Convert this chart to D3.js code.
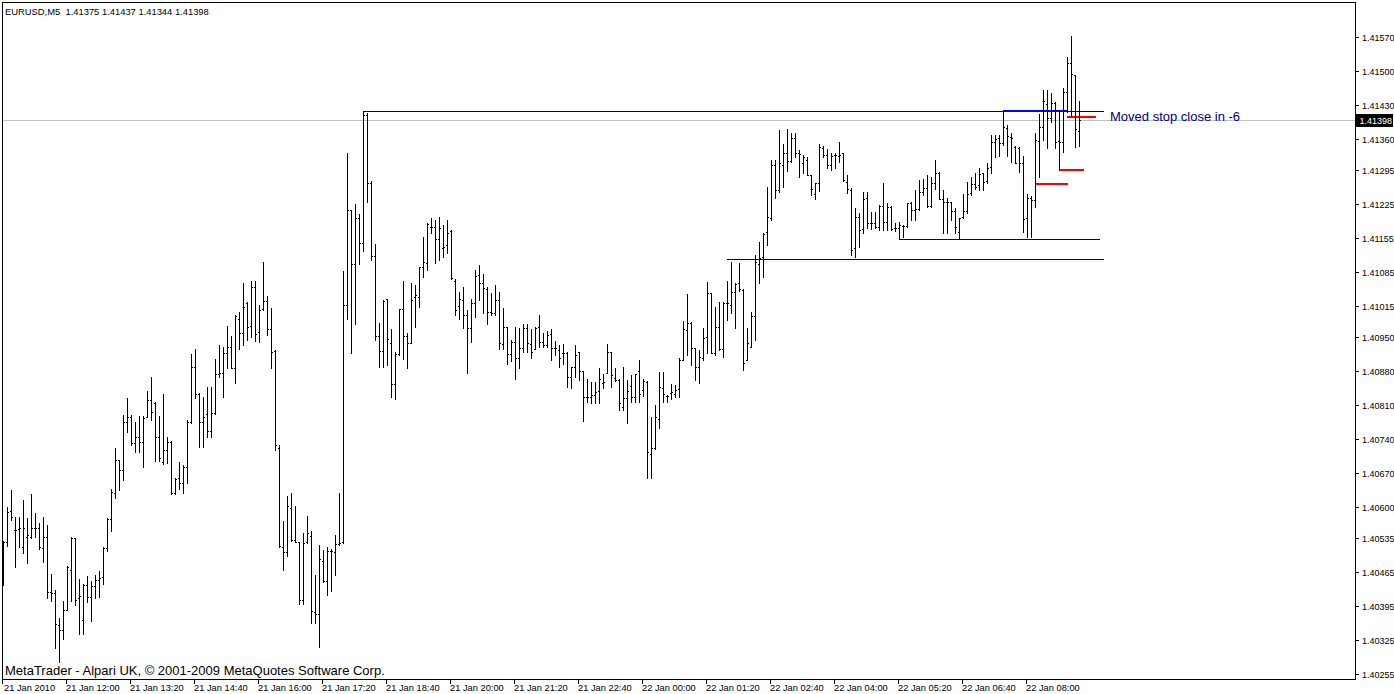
<!DOCTYPE html>
<html><head><meta charset="utf-8">
<script src="https://cdn.jsdelivr.net/npm/d3@7"></script>
<style>
body{margin:0;background:#fff;}
svg{display:block;}
text{font-family:"Liberation Sans",Arial,sans-serif;}
</style>
</head><body>
<svg id="c" width="1394" height="694"></svg>
<script>
const symbolTitle = "EURUSD,M5";
const copyright = "MetaTrader - Alpari UK, \u00A9 2001-2009 MetaQuotes Software Corp.";
const note = "Moved stop close in -6";

const open = [1.40443,1.40527,1.40591,1.40552,1.40554,1.40517,1.40538,1.40538,1.40556,1.40556,
1.40515,1.40538,1.40424,1.40422,1.40356,1.40345,1.40387,1.40469,1.40536,1.40411,
1.40366,1.40439,1.40414,1.40436,1.40449,1.40455,1.40515,1.40575,1.40628,1.40696,
1.40676,1.40775,1.40785,1.40732,1.40744,1.40734,1.40785,1.40820,1.40814,1.40744,
1.40692,1.40717,1.40734,1.40628,1.40659,1.40649,1.40682,1.40775,1.40888,1.40833,
1.40775,1.40792,1.40756,1.40794,1.40874,1.40876,1.40917,1.40930,1.40886,1.40987,
1.40958,1.41021,1.40973,1.41054,1.40960,1.41008,1.41025,1.40967,1.40921,1.40721,
1.40517,1.40507,1.40597,1.40531,1.40527,1.40407,1.40527,1.40540,1.40383,1.40378,
1.40488,1.40447,1.40509,1.40507,1.40523,1.40527,1.41017,1.41212,1.41101,1.41196,
1.41145,1.41408,1.41268,1.41118,1.40952,1.40921,1.41029,1.40938,1.40853,1.40915,
1.41008,1.40952,1.40938,1.41033,1.41033,1.41095,1.41103,1.41178,1.41178,1.41153,
1.41134,1.41140,1.41169,1.41066,1.41014,1.41027,1.40996,1.40969,1.41021,1.41078,
1.41062,1.41049,1.41002,1.41000,1.41027,1.40936,1.40971,1.40915,1.40940,1.40907,
1.40928,1.40969,1.40936,1.40925,1.40971,1.40940,1.40934,1.40956,1.40928,1.40923,
1.40917,1.40917,1.40868,1.40888,1.40919,1.40880,1.40827,1.40827,1.40831,1.40839,
1.40856,1.40876,1.40919,1.40866,1.40862,1.40806,1.40825,1.40849,1.40827,1.40880,
1.40841,1.40858,1.40709,1.40721,1.40781,1.40845,1.40829,1.40835,1.40833,1.40843,
1.40903,1.40965,1.40979,1.40928,1.40888,1.40907,1.40950,1.41041,1.40917,1.40971,
1.40925,1.41021,1.41017,1.41043,1.41062,1.41047,1.40903,1.40930,1.40994,1.41101,
1.41115,1.41167,1.41196,1.41305,1.41254,1.41305,1.41330,1.41314,1.41361,1.41330,
1.41310,1.41316,1.41285,1.41246,1.41268,1.41341,1.41326,1.41305,1.41326,1.41324,
1.41330,1.41270,1.41254,1.41134,1.41198,1.41173,1.41237,1.41186,1.41186,1.41178,
1.41221,1.41188,1.41219,1.41175,1.41175,1.41180,1.41180,1.41227,1.41212,1.41214,
1.41250,1.41258,1.41221,1.41268,1.41289,1.41235,1.41229,1.41229,1.41210,1.41167,
1.41198,1.41210,1.41248,1.41266,1.41264,1.41289,1.41272,1.41301,1.41353,1.41361,
1.41351,1.41382,1.41363,1.41343,1.41341,1.41310,1.41196,1.41237,1.41233,1.41355,
1.41384,1.41431,1.41403,1.41434,1.41355,1.41353,1.41456,1.41516,1.41491,1.41375];

const high = [1.40529,1.40600,1.40634,1.40579,1.40579,1.40615,1.40577,1.40626,1.40587,1.40567,
1.40579,1.40563,1.40461,1.40428,1.40370,1.40405,1.40478,1.40538,1.40536,1.40451,
1.40441,1.40457,1.40447,1.40459,1.40467,1.40517,1.40577,1.40636,1.40721,1.40696,
1.40789,1.40825,1.40789,1.40775,1.40787,1.40787,1.40839,1.40868,1.40816,1.40787,
1.40833,1.40744,1.40736,1.40659,1.40692,1.40686,1.40779,1.40915,1.40925,1.40835,
1.40827,1.40848,1.40848,1.40905,1.40934,1.40930,1.40973,1.40952,1.40996,1.41002,
1.41062,1.41023,1.41066,1.41066,1.41017,1.41105,1.41035,1.41010,1.40923,1.40727,
1.40571,1.40622,1.40628,1.40602,1.40527,1.40546,1.40581,1.40550,1.40459,1.40521,
1.40511,1.40517,1.40513,1.40542,1.40628,1.41087,1.41330,1.41212,1.41225,1.41204,
1.41417,1.41413,1.41272,1.41142,1.40979,1.41027,1.41029,1.40967,1.40919,1.41008,
1.41066,1.40958,1.41062,1.41058,1.41095,1.41157,1.41186,1.41196,1.41192,1.41198,
1.41182,1.41192,1.41171,1.41070,1.41043,1.41054,1.41006,1.41029,1.41089,1.41099,
1.41080,1.41054,1.41041,1.41058,1.41043,1.41010,1.40971,1.40944,1.40971,1.40969,
1.40977,1.40977,1.40967,1.40971,1.40996,1.40958,1.40963,1.40967,1.40942,1.40934,
1.40936,1.40919,1.40888,1.40934,1.40919,1.40880,1.40864,1.40858,1.40858,1.40886,
1.40874,1.40936,1.40919,1.40886,1.40864,1.40888,1.40862,1.40872,1.40874,1.40903,
1.40864,1.40860,1.40785,1.40810,1.40878,1.40878,1.40831,1.40854,1.40851,1.40907,
1.40983,1.41039,1.40981,1.40928,1.40923,1.40969,1.41064,1.41041,1.41012,1.41023,
1.41023,1.41066,1.41105,1.41062,1.41103,1.41049,1.40969,1.41002,1.41120,1.41147,
1.41165,1.41260,1.41316,1.41316,1.41378,1.41349,1.41380,1.41372,1.41372,1.41336,
1.41326,1.41322,1.41285,1.41268,1.41349,1.41345,1.41338,1.41330,1.41330,1.41353,
1.41330,1.41285,1.41258,1.41216,1.41206,1.41250,1.41250,1.41208,1.41208,1.41223,
1.41268,1.41227,1.41221,1.41186,1.41188,1.41182,1.41227,1.41229,1.41254,1.41274,
1.41276,1.41285,1.41281,1.41316,1.41291,1.41254,1.41237,1.41229,1.41216,1.41196,
1.41246,1.41270,1.41281,1.41289,1.41299,1.41289,1.41310,1.41368,1.41368,1.41368,
1.41417,1.41388,1.41372,1.41345,1.41343,1.41324,1.41246,1.41241,1.41372,1.41411,
1.41460,1.41460,1.41454,1.41436,1.41419,1.41464,1.41528,1.41572,1.41491,1.41437];

const low = [1.40439,1.40519,1.40573,1.40476,1.40517,1.40505,1.40484,1.40536,1.40538,1.40513,
1.40486,1.40411,1.40405,1.40308,1.40280,1.40327,1.40387,1.40405,1.40397,1.40337,
1.40337,1.40403,1.40364,1.40411,1.40414,1.40441,1.40509,1.40550,1.40618,1.40634,
1.40655,1.40754,1.40727,1.40713,1.40713,1.40682,1.40785,1.40779,1.40694,1.40694,
1.40688,1.40690,1.40626,1.40626,1.40636,1.40628,1.40649,1.40773,1.40825,1.40723,
1.40723,1.40744,1.40744,1.40792,1.40868,1.40827,1.40886,1.40886,1.40856,1.40925,
1.40934,1.40944,1.40950,1.40942,1.40940,1.41006,1.40954,1.40886,1.40717,1.40517,
1.40469,1.40498,1.40529,1.40527,1.40399,1.40399,1.40525,1.40360,1.40360,1.40311,
1.40445,1.40418,1.40426,1.40459,1.40521,1.40525,1.40987,1.40917,1.40977,1.41101,
1.41128,1.41229,1.41109,1.40944,1.40888,1.40888,1.40892,1.40827,1.40823,1.40913,
1.40905,1.40886,1.40938,1.40971,1.41012,1.41074,1.41089,1.41165,1.41103,1.41109,
1.41115,1.41124,1.41070,1.40996,1.40987,1.40969,1.40876,1.40940,1.40991,1.41027,
1.41000,1.40977,1.40996,1.40996,1.40925,1.40925,1.40895,1.40901,1.40864,1.40886,
1.40919,1.40919,1.40907,1.40925,1.40930,1.40930,1.40930,1.40903,1.40913,1.40888,
1.40895,1.40847,1.40845,1.40868,1.40862,1.40777,1.40816,1.40814,1.40814,1.40814,
1.40845,1.40876,1.40847,1.40860,1.40800,1.40800,1.40773,1.40816,1.40816,1.40816,
1.40829,1.40659,1.40659,1.40719,1.40762,1.40816,1.40816,1.40823,1.40827,1.40827,
1.40903,1.40913,1.40892,1.40862,1.40856,1.40903,1.40917,1.40917,1.40913,1.40923,
1.40909,1.40985,1.41000,1.40969,1.41045,1.40882,1.40903,1.40930,1.40944,1.41062,
1.41074,1.41140,1.41192,1.41237,1.41250,1.41260,1.41293,1.41312,1.41322,1.41281,
1.41289,1.41285,1.41244,1.41235,1.41252,1.41322,1.41299,1.41295,1.41299,1.41312,
1.41272,1.41248,1.41120,1.41115,1.41136,1.41165,1.41175,1.41173,1.41175,1.41171,
1.41171,1.41171,1.41171,1.41169,1.41153,1.41157,1.41178,1.41192,1.41192,1.41212,
1.41244,1.41219,1.41219,1.41256,1.41235,1.41165,1.41165,1.41192,1.41165,1.41153,
1.41196,1.41206,1.41244,1.41256,1.41254,1.41254,1.41268,1.41289,1.41322,1.41324,
1.41347,1.41324,1.41312,1.41310,1.41291,1.41167,1.41157,1.41157,1.41219,1.41281,
1.41357,1.41340,1.41394,1.41340,1.41295,1.41332,1.41415,1.41407,1.41343,1.41344];

const close = [1.40527,1.40589,1.40579,1.40552,1.40556,1.40556,1.40542,1.40556,1.40556,1.40517,
1.40538,1.40424,1.40422,1.40358,1.40345,1.40387,1.40476,1.40536,1.40407,1.40416,
1.40439,1.40414,1.40436,1.40449,1.40453,1.40515,1.40575,1.40630,1.40696,1.40676,
1.40775,1.40785,1.40732,1.40744,1.40734,1.40783,1.40820,1.40796,1.40744,1.40700,
1.40717,1.40734,1.40628,1.40657,1.40649,1.40682,1.40775,1.40888,1.40833,1.40775,
1.40785,1.40756,1.40794,1.40874,1.40876,1.40917,1.40930,1.40886,1.40994,1.40958,
1.41012,1.40971,1.41054,1.40956,1.41006,1.41025,1.40967,1.40919,1.40727,1.40519,
1.40507,1.40602,1.40531,1.40527,1.40407,1.40525,1.40546,1.40385,1.40378,1.40492,
1.40447,1.40509,1.40509,1.40523,1.40525,1.41017,1.41212,1.41101,1.41196,1.41145,
1.41408,1.41268,1.41118,1.40952,1.40921,1.41025,1.40946,1.40853,1.40915,1.41008,
1.40952,1.40938,1.41027,1.41037,1.41095,1.41105,1.41184,1.41178,1.41153,1.41175,
1.41136,1.41165,1.41072,1.41006,1.41029,1.40996,1.40969,1.41021,1.41076,1.41062,
1.41052,1.41002,1.41000,1.41027,1.40938,1.40971,1.40915,1.40940,1.40907,1.40928,
1.40969,1.40938,1.40919,1.40969,1.40940,1.40934,1.40954,1.40928,1.40928,1.40907,
1.40917,1.40868,1.40888,1.40913,1.40880,1.40827,1.40827,1.40831,1.40837,1.40864,
1.40858,1.40919,1.40872,1.40862,1.40814,1.40825,1.40839,1.40827,1.40874,1.40833,
1.40860,1.40713,1.40721,1.40785,1.40847,1.40833,1.40829,1.40837,1.40841,1.40903,
1.40967,1.40979,1.40928,1.40888,1.40909,1.40948,1.41041,1.40917,1.40971,1.40925,
1.41021,1.41021,1.41043,1.41060,1.41049,1.40897,1.40938,1.40994,1.41105,1.41113,
1.41163,1.41198,1.41305,1.41254,1.41310,1.41330,1.41314,1.41361,1.41330,1.41328,
1.41322,1.41285,1.41256,1.41268,1.41343,1.41326,1.41305,1.41324,1.41326,1.41326,
1.41274,1.41256,1.41130,1.41198,1.41171,1.41235,1.41186,1.41186,1.41178,1.41221,
1.41188,1.41219,1.41173,1.41175,1.41182,1.41180,1.41227,1.41212,1.41214,1.41250,
1.41258,1.41221,1.41268,1.41289,1.41235,1.41229,1.41229,1.41210,1.41178,1.41196,
1.41210,1.41246,1.41266,1.41260,1.41287,1.41270,1.41299,1.41353,1.41359,1.41351,
1.41384,1.41365,1.41361,1.41310,1.41310,1.41194,1.41237,1.41233,1.41357,1.41384,
1.41438,1.41403,1.41434,1.41353,1.41353,1.41456,1.41516,1.41493,1.41380,1.41398];

const timeLabels = ["21 Jan 2010","21 Jan 12:00","21 Jan 13:20","21 Jan 14:40","21 Jan 16:00",
"21 Jan 17:20","21 Jan 18:40","21 Jan 20:00","21 Jan 21:20","21 Jan 22:40","22 Jan 00:00",
"22 Jan 01:20","22 Jan 02:40","22 Jan 04:00","22 Jan 05:20","22 Jan 06:40","22 Jan 08:00"];
const timeLabelBars = [0,16,32,48,64,80,96,112,128,144,160,176,192,208,224,240,256];

const priceTicks = [1.41570,1.41500,1.41430,1.41360,1.41295,1.41225,1.41155,1.41085,1.41015,1.40950,
1.40880,1.40810,1.40740,1.40670,1.40600,1.40535,1.40465,1.40395,1.40325,1.40255];

// horizontal objects: price level, first bar, last bar, kind
const levelPrice = [1.41417, 1.41112, 1.41153, 1.41417, 1.41405, 1.41295, 1.41267];
const levelFrom  = [90, 181, 224, 250, 266, 264, 258];
const levelTo    = [275, 275, 274, 266, 273, 270, 266];
const levelKind  = ["line","line","line","blue","red","red","red"];

const lastPrice = close[close.length - 1];

// ---------- drawing ----------
const svg = d3.select("#c");
const W = 1394, H = 694;
const frameL = 2, frameT = 2, frameR = 1355, frameB = 679;

const x = d3.scaleLinear().domain([0, open.length - 1]).range([3, 3 + 4 * (open.length - 1)]);
const y = d3.scaleLinear().domain([1.40255, 1.41570]).range([674, 37]);
const px = v => Math.round(x(v));
const py = v => Math.round(y(v));

svg.append("rect").attr("width", W).attr("height", H).attr("fill", "#fff");

const kindStyle = {
  line: {color: "#000080", h: 1},
  blue: {color: "#0000ff", h: 2},
  red:  {color: "#ff0000", h: 2}
};

// current price line
svg.append("rect").attr("x", frameL).attr("y", py(lastPrice))
  .attr("width", frameR - frameL).attr("height", 1).attr("fill", "#c0c0c0");

// level lines
const levels = levelPrice.map((p, i) => ({p, a: levelFrom[i], b: levelTo[i], k: levelKind[i]}));
svg.append("g").selectAll("rect").data(levels).join("rect")
  .attr("x", d => px(d.a))
  .attr("y", d => py(d.p) - (kindStyle[d.k].h > 1 ? 1 : 0))
  .attr("width", d => px(d.b) - px(d.a) + 1)
  .attr("height", d => kindStyle[d.k].h)
  .attr("fill", d => kindStyle[d.k].color);

// OHLC bars
const bars = open.map((o, i) => ({i, o, h: high[i], l: low[i], c: close[i]}));
const gb = svg.append("g").attr("fill", "#000");
bars.forEach(d => {
  const xx = px(d.i);
  const yh = py(d.h), yl = py(d.l);
  const yo = Math.min(Math.max(py(d.o), yh), yl);
  const yc = Math.min(Math.max(py(d.c), yh), yl);
  gb.append("rect").attr("x", xx).attr("y", yh).attr("width", 1).attr("height", yl - yh + 1);
  gb.append("rect").attr("x", xx - 1).attr("y", yo).attr("width", 1).attr("height", 1);
  gb.append("rect").attr("x", xx + 1).attr("y", yc).attr("width", 1).attr("height", 1);
});

// frame
svg.append("rect").attr("x", frameL + 0.5).attr("y", frameT + 0.5)
  .attr("width", frameR - frameL).attr("height", frameB - frameT)
  .attr("fill", "none").attr("stroke", "#000").attr("stroke-width", 1);

// right price axis
const ga = svg.append("g");
priceTicks.forEach(v => {
  const yy = py(v);
  ga.append("rect").attr("x", frameR + 1).attr("y", yy).attr("width", 3).attr("height", 1).attr("fill", "#000");
  ga.append("text").attr("x", 1362).attr("y", yy + 3.5).attr("font-size", 9).attr("fill", "#000")
    .text(v.toFixed(5));
});
// current price tag
const yl = py(lastPrice);
svg.append("rect").attr("x", frameR + 1).attr("y", yl - 6).attr("width", W - frameR - 2).attr("height", 13).attr("fill", "#000");
svg.append("text").attr("x", 1359.5).attr("y", yl + 3.5).attr("font-size", 9).attr("fill", "#fff").text(lastPrice.toFixed(5));

// bottom time axis
timeLabelBars.forEach((b, k) => {
  const xx = px(b) - 1;
  svg.append("rect").attr("x", xx).attr("y", frameB + 1).attr("width", 1).attr("height", 4).attr("fill", "#000");
  svg.append("text").attr("x", k === 0 ? xx + 2 : xx).attr("y", 691).attr("font-size", 9.3).attr("fill", "#000").text(timeLabels[k]);
});

// title with last bar OHLC
const last = open.length - 1;
svg.append("text").attr("x", 5).attr("y", 15).attr("font-size", 9.4).attr("fill", "#000")
  .attr("xml:space", "preserve")
  .text(symbolTitle + "  " + [open[last], high[last], low[last], close[last]].map(v => v.toFixed(5)).join(" "));

// copyright
svg.append("text").attr("x", 5).attr("y", 675).attr("font-size", 13).attr("fill", "#000").text(copyright);

// annotation
svg.append("text").attr("x", 1110).attr("y", py(1.41405) + 4).attr("font-size", 13).attr("fill", "#000080").text(note);
</script>
</body></html>
